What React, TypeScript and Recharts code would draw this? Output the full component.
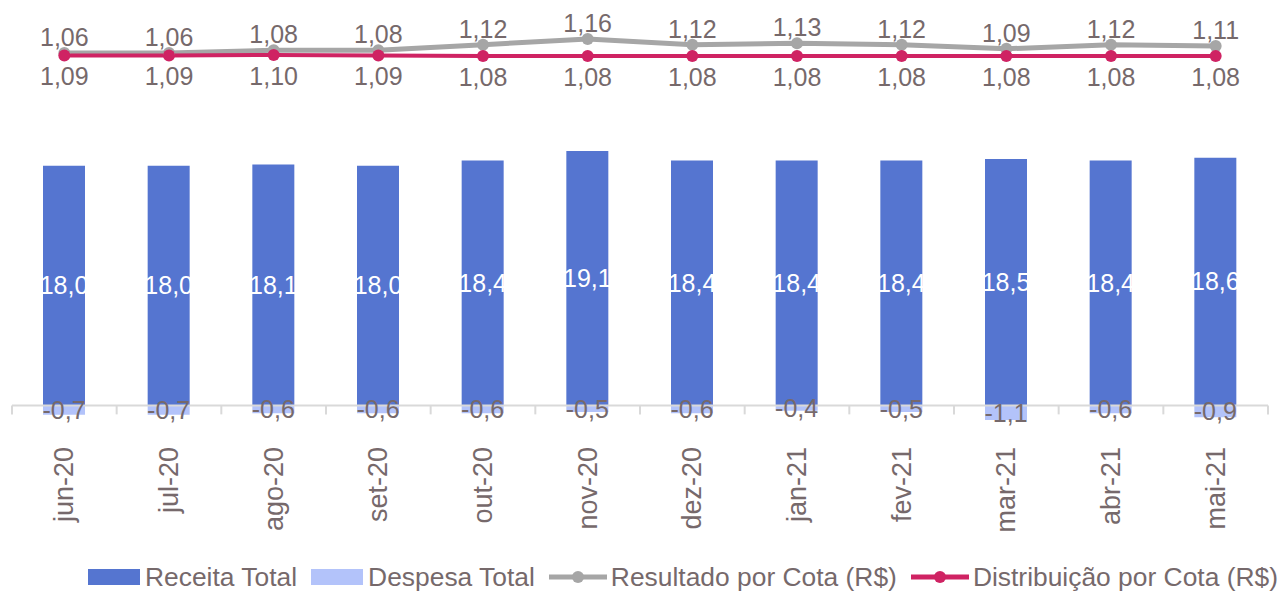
import React from 'react';
import {
  ComposedChart,
  Bar,
  Line,
  XAxis,
  YAxis,
  Legend,
  LabelList,
  ReferenceLine,
} from 'recharts';

const months = ['jun-20', 'jul-20', 'ago-20', 'set-20', 'out-20', 'nov-20', 'dez-20', 'jan-21', 'fev-21', 'mar-21', 'abr-21', 'mai-21'];
const receita = [18.0, 18.0, 18.1, 18.0, 18.4, 19.1, 18.4, 18.4, 18.4, 18.5, 18.4, 18.6];
const despesa = [-0.7, -0.7, -0.6, -0.6, -0.6, -0.5, -0.6, -0.4, -0.5, -1.1, -0.6, -0.9];
const resultado = [1.06, 1.06, 1.08, 1.08, 1.12, 1.16, 1.12, 1.13, 1.12, 1.09, 1.12, 1.11];
const distribuicao = [1.09, 1.09, 1.1, 1.09, 1.08, 1.08, 1.08, 1.08, 1.08, 1.08, 1.08, 1.08];
const seriesNames = ['Receita Total', 'Despesa Total', 'Resultado por Cota (R$)', 'Distribuição por Cota (R$)'];

const W = 1283;
const H = 592;
const margin = { top: 6, right: 15, left: 12, bottom: 0 };
const xAxisHeight = 130;
const legendHeight = 30;
const barDomain: [number, number] = [-2, 30];
const gDomain: [number, number] = [-1.647, 1.396];
const pDomain: [number, number] = [-6.44, 2.08];

const TEXT = '#76696B';
const BLUE = '#5575D0';
const LIGHT = '#B3C3FA';
const GRAY = '#A6A6A6';
const PINK = '#CF2363';
const FONT = '"Liberation Sans", Arial, sans-serif';

const data = months.map((m, i) => ({
  month: m,
  receita: receita[i],
  despesa: despesa[i],
  resultado: resultado[i],
  distribuicao: distribuicao[i],
}));

const plotH = H - margin.top - margin.bottom - xAxisHeight - legendHeight;
const zeroY = margin.top + (barDomain[1] / (barDomain[1] - barDomain[0])) * plotH;
const step = (W - margin.left - margin.right) / months.length;

const fmt1 = (v: any) => Number(v).toFixed(1).replace('.', ',');
const fmt2 = (v: any) => Number(v).toFixed(2).replace('.', ',');

function MonthTick(props: any) {
  const { x, y, payload, index } = props;
  return (
    <g>
      <line x1={x - step / 2} x2={x - step / 2} y1={zeroY} y2={zeroY + 9} stroke="#D9D9D9" strokeWidth={2} />
      {index === months.length - 1 && (
        <line x1={x + step / 2} x2={x + step / 2} y1={zeroY} y2={zeroY + 9} stroke="#D9D9D9" strokeWidth={2} />
      )}
      <text
        transform={`translate(${x + 9},${y + 15}) rotate(-90)`}
        textAnchor="end"
        fill={TEXT}
        fontSize={27}
        fontFamily={FONT}
      >
        {payload.value}
      </text>
    </g>
  );
}

function LegendContent(props: any) {
  const items = [...(props.payload || [])].sort(
    (a: any, b: any) => seriesNames.indexOf(a.value) - seriesNames.indexOf(b.value)
  );
  return (
    <div
      style={{
        height: legendHeight,
        lineHeight: `${legendHeight}px`,
        display: 'flex',
        alignItems: 'center',
        paddingLeft: 88,
        whiteSpace: 'nowrap',
        fontSize: 26.4,
        color: TEXT,
        fontFamily: FONT,
      }}
    >
      {items.map((p: any) => (
        <div key={p.value} style={{ display: 'flex', alignItems: 'center', marginRight: 14 }}>
          {p.type === 'rect' ? (
            <svg width={52} height={16} style={{ marginRight: 5 }}>
              <rect width={52} height={16} fill={p.color} />
            </svg>
          ) : (
            <svg width={58} height={16} style={{ marginRight: 4 }}>
              <line x1={0} x2={58} y1={8} y2={8} stroke={p.color} strokeWidth={5} strokeLinecap="round" />
              <circle cx={29} cy={8} r={6} fill={p.color} />
            </svg>
          )}
          <span>{p.value}</span>
        </div>
      ))}
    </div>
  );
}

export default function App() {
  return (
    <div style={{ position: 'absolute', left: 0, top: 0, width: W, height: H, background: '#fff', fontFamily: FONT }}>
      <ComposedChart width={W} height={H} data={data} margin={margin} stackOffset="sign" barSize={42}>
        <XAxis
          dataKey="month"
          height={xAxisHeight}
          axisLine={false}
          tickLine={false}
          tickSize={0}
          tickMargin={0}
          interval={0}
          tick={<MonthTick />}
        />
        <YAxis yAxisId="bar" hide domain={barDomain} allowDataOverflow />
        <YAxis yAxisId="g" hide domain={gDomain} allowDataOverflow />
        <YAxis yAxisId="p" hide domain={pDomain} allowDataOverflow />
        <ReferenceLine yAxisId="bar" y={0} stroke="#D9D9D9" strokeWidth={2} />
        <Bar yAxisId="bar" dataKey="receita" name="Receita Total" stackId="a" fill={BLUE} legendType="rect" isAnimationActive={false}>
          <LabelList dataKey="receita" position="center" formatter={fmt1} fill="#FFFFFF" fontSize={25} fontFamily={FONT} />
        </Bar>
        <Bar yAxisId="bar" dataKey="despesa" name="Despesa Total" stackId="a" fill={LIGHT} legendType="rect" isAnimationActive={false}>
          <LabelList dataKey="despesa" position="center" formatter={fmt1} fill={TEXT} fontSize={25} fontFamily={FONT} />
        </Bar>
        <Line
          yAxisId="g"
          dataKey="resultado"
          name="Resultado por Cota (R$)"
          stroke={GRAY}
          strokeWidth={5}
          dot={{ r: 6, fill: GRAY, stroke: GRAY, strokeWidth: 0 }}
          legendType="line"
          isAnimationActive={false}
        >
          <LabelList dataKey="resultado" position="top" offset={7} formatter={fmt2} fill={TEXT} fontSize={25} fontFamily={FONT} />
        </Line>
        <Line
          yAxisId="p"
          dataKey="distribuicao"
          name="Distribuição por Cota (R$)"
          stroke={PINK}
          strokeWidth={4}
          dot={{ r: 6, fill: PINK, stroke: PINK, strokeWidth: 0 }}
          legendType="line"
          isAnimationActive={false}
        >
          <LabelList dataKey="distribuicao" position="bottom" offset={12} formatter={fmt2} fill={TEXT} fontSize={25} fontFamily={FONT} />
        </Line>
        <Legend
          verticalAlign="bottom"
          align="left"
          height={legendHeight}
          wrapperStyle={{ left: 0, width: W }}
          content={<LegendContent />}
        />
      </ComposedChart>
    </div>
  );
}
